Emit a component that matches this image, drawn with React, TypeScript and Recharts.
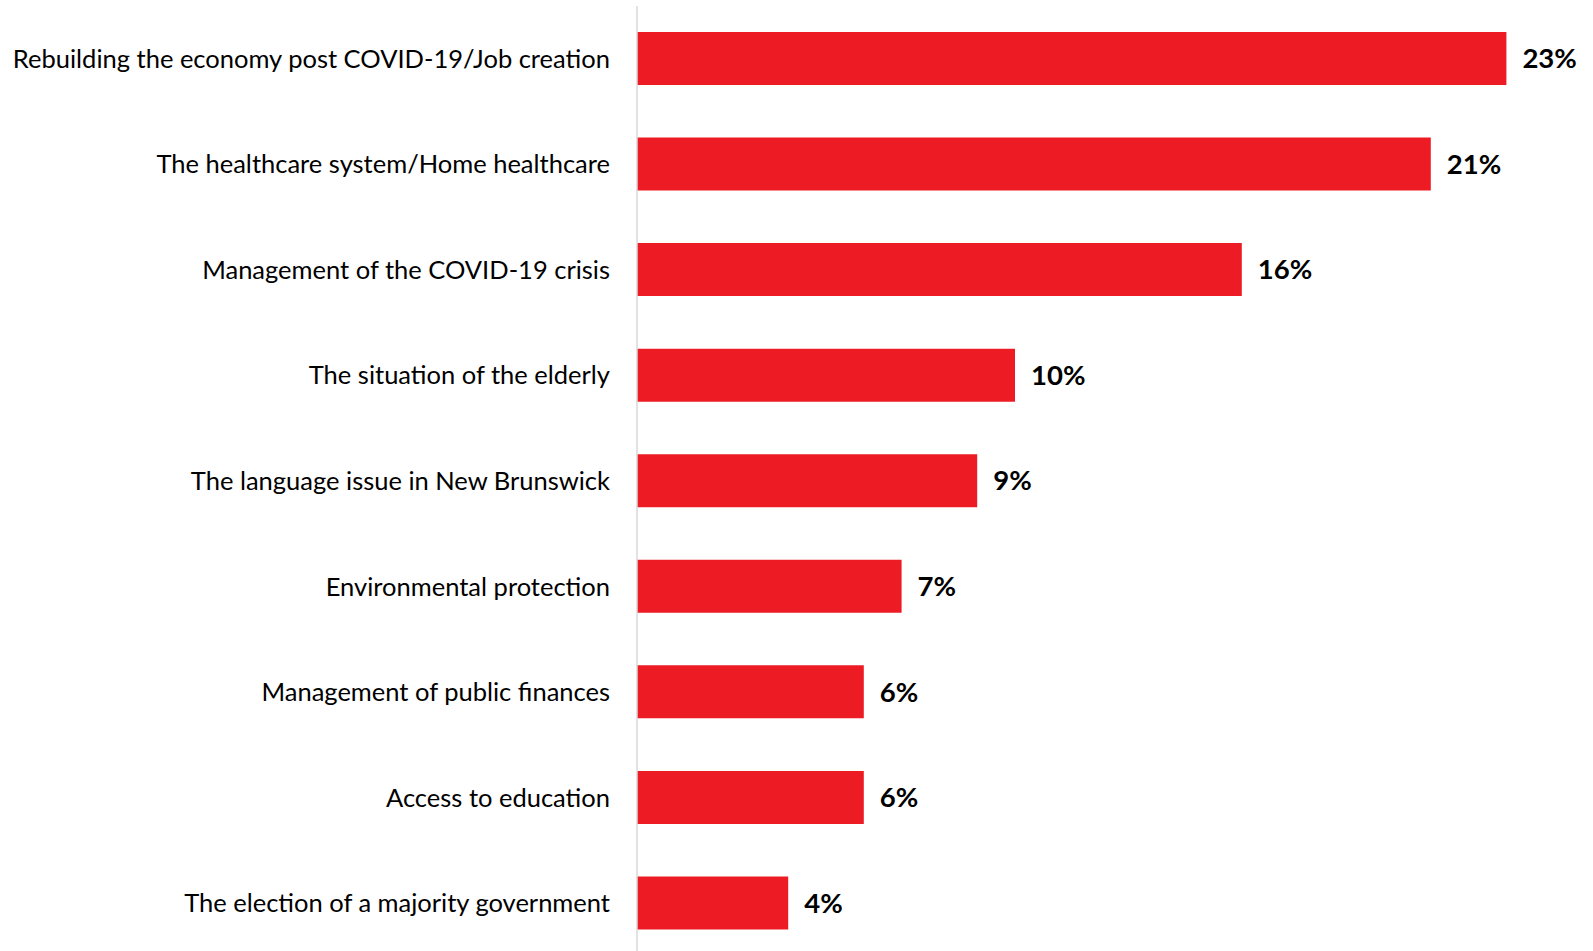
import React from "react";
import { BarChart, Bar, XAxis, YAxis, LabelList, Rectangle } from "recharts";

const categories = [
  "Rebuilding the economy post COVID-19/Job creation",
  "The healthcare system/Home healthcare",
  "Management of the COVID-19 crisis",
  "The situation of the elderly",
  "The language issue in New Brunswick",
  "Environmental protection",
  "Management of public finances",
  "Access to education",
  "The election of a majority government",
];

const shares = [23, 21, 16, 10, 9, 7, 6, 6, 4];

const data = categories.map((name, i) => ({ name, value: shares[i] }));

const FONT = "Lato, 'Noto Sans', sans-serif";

export default function App() {
  return (
    <div style={{ position: "absolute", left: 0, top: 0, width: 1593, height: 951, overflow: "hidden", background: "#fff" }}>
      <BarChart
        width={1593}
        height={956}
        data={data}
        layout="vertical"
        margin={{ top: 6, right: 11, left: 0, bottom: 0 }}
      >
        <XAxis type="number" domain={[0, 25]} hide />
        <YAxis
          type="category"
          dataKey="name"
          width={637}
          axisLine={{ stroke: "#D9D9D9", strokeWidth: 1.5 }}
          tickLine={false}
          tickSize={0}
          tickMargin={27}
          interval={0}
          tick={{ fill: "#000", fontSize: 25.5, fontFamily: FONT }}
        />
        <Bar
          dataKey="value"
          fill="#ED1C24"
          barSize={53}
          isAnimationActive={false}
          shape={(p: any) => <Rectangle {...p} fill="#ED1C24" />}
        >
          <LabelList
            dataKey="value"
            position="right"
            offset={16}
            formatter={(v: number) => `${v}%`}
            style={{ fill: "#000", fontSize: 27.5, fontWeight: 700, fontFamily: FONT }}
          />
        </Bar>
      </BarChart>
    </div>
  );
}
